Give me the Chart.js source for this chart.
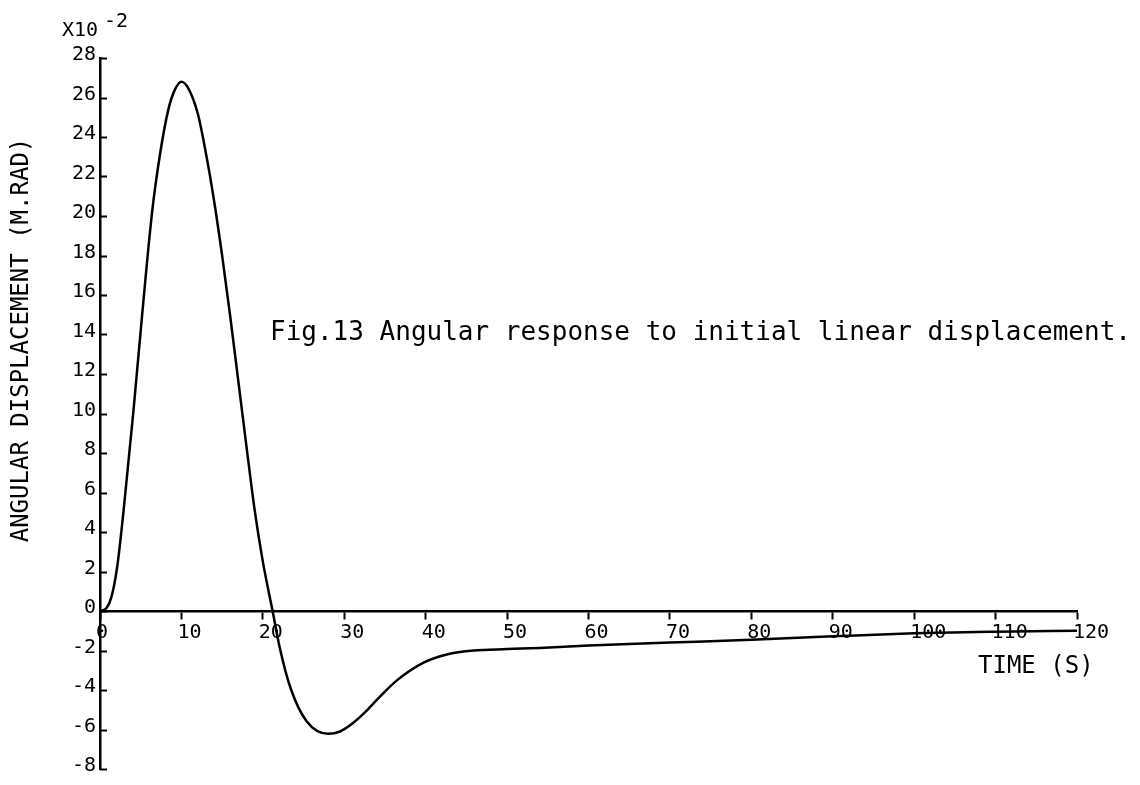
<!DOCTYPE html>
<html>
<head>
<meta charset="utf-8">
<title>Fig.13 Angular response</title>
<script src="https://cdn.jsdelivr.net/npm/chart.js@4.4.1/dist/chart.umd.min.js"></script>
<style>
    html, body { margin: 0; padding: 0; background: #fff; }
    #wrap { position: relative; width: 1140px; height: 785px; }
</style>
</head>
<body>
<div id="wrap"><canvas id="lineChart"></canvas></div>
<script>
/*global Chart, document*/

// time (s)
var timeValues = [0, 0.8, 1.4, 2.1, 2.9, 4.1, 5.0, 6.4, 7.4, 8.4, 9.2, 10.0, 10.8, 12.0, 13.0, 14.0, 15.0, 16.0, 17.0, 18.0,
    19.0, 20.0, 21.2, 22.1, 23.4, 25.4, 28.0, 29.5, 31.0, 32.5, 34.0, 36.5, 39.8, 42.6, 45.9, 50, 54,
    60, 70, 80, 90, 100, 110, 120];

// angular displacement, x10^-2 m.rad
var angleValues = [0, 0.15, 0.7, 2.2, 5.1, 10.1, 14.2, 20.2, 23.2, 25.4, 26.4, 26.8, 26.5, 25.2, 23.2, 20.8, 18.0, 14.9, 11.6, 8.3,
    5.1, 2.5, 0, -1.9, -3.9, -5.6, -6.22, -6.1, -5.7, -5.15, -4.5, -3.5, -2.6, -2.2, -2.0, -1.93, -1.87,
    -1.75, -1.6, -1.45, -1.28, -1.13, -1.05, -1.0];

var xTicks = [0, 10, 20, 30, 40, 50, 60, 70, 80, 90, 100, 110, 120];
var yTicks = [-8, -6, -4, -2, 0, 2, 4, 6, 8, 10, 12, 14, 16, 18, 20, 22, 24, 26, 28];

var yTitle = 'ANGULAR DISPLACEMENT (M.RAD)';
var xTitle = 'TIME (S)';
var caption = 'Fig.13 Angular response to initial linear displacement.';

(function () {

    'use strict';

    var ink = '#000';
    var mono = '"DejaVu Sans Mono", "Liberation Mono", monospace';

    var points = [];
    for (var i = 0; i < timeValues.length; i++) {
        points.push({ x: timeValues[i], y: angleValues[i] });
    }

    // ------------------------------------------------------- //
    // inward y ticks + loose text (axis titles, caption)
    // ------------------------------------------------------ //
    var plotterText = {
        id: 'plotterText',
        afterDraw: function (chart) {
            var ctx = chart.ctx;
            var ys = chart.scales.y;
            var left = chart.chartArea.left;

            ctx.save();
            ctx.strokeStyle = ink;
            ctx.lineWidth = 2;
            yTicks.forEach(function (v) {
                var py = Math.round(ys.getPixelForValue(v)) + 0.5;
                ctx.beginPath();
                ctx.moveTo(left, py);
                ctx.lineTo(left + 7, py);
                ctx.stroke();
            });

            ctx.fillStyle = ink;
            ctx.textBaseline = 'alphabetic';

            // exponent over the y axis
            ctx.font = '20px ' + mono;
            ctx.textAlign = 'left';
            ctx.fillText('X10', 62, 36);
            ctx.fillText('-2', 104, 27);

            // x title
            ctx.font = '24px ' + mono;
            ctx.fillText(xTitle, 978, 673);

            // caption
            ctx.font = '26px ' + mono;
            ctx.fillText(caption, 270, 340);

            // y title
            ctx.font = '24px ' + mono;
            ctx.translate(28, 340);
            ctx.rotate(-Math.PI / 2);
            ctx.textAlign = 'center';
            ctx.fillText(yTitle, 0, 0);
            ctx.restore();
        }
    };

    var LINECHART = document.getElementById('lineChart');
    var myLineChart = new Chart(LINECHART, {
        type: 'line',
        data: {
            datasets: [{
                label: 'Angular displacement',
                data: points,
                borderColor: ink,
                borderWidth: 2.5,
                pointRadius: 0,
                fill: false,
                cubicInterpolationMode: 'monotone'
            }]
        },
        options: {
            responsive: true,
            maintainAspectRatio: false,
            animation: false,
            layout: {
                padding: { left: 0, right: 63, top: 58, bottom: 7 }
            },
            plugins: {
                legend: { display: false },
                tooltip: { enabled: false }
            },
            scales: {
                x: {
                    type: 'linear',
                    position: { y: 0 },
                    min: 0,
                    max: 120,
                    afterFit: function (scale) { scale.height = 0; },
                    afterBuildTicks: function (scale) {
                        scale.ticks = xTicks.map(function (v) { return { value: v }; });
                    },
                    border: { display: true, color: ink, width: 2.5 },
                    grid: {
                        drawOnChartArea: false,
                        drawTicks: true,
                        tickLength: 7,
                        tickWidth: 2,
                        tickColor: ink
                    },
                    ticks: {
                        align: 'start',
                        labelOffset: -4,
                        padding: 3,
                        maxRotation: 0,
                        autoSkip: false,
                        color: ink,
                        font: { family: mono, size: 20 }
                    }
                },
                y: {
                    type: 'linear',
                    min: -8,
                    max: 28,
                    afterFit: function (scale) { scale.width = 100; },
                    afterBuildTicks: function (scale) {
                        scale.ticks = yTicks.map(function (v) { return { value: v }; });
                    },
                    border: { display: true, color: ink, width: 2.5 },
                    grid: {
                        drawOnChartArea: false,
                        drawTicks: false
                    },
                    ticks: {
                        padding: 4,
                        labelOffset: -3,
                        autoSkip: false,
                        color: ink,
                        font: { family: mono, size: 20 }
                    }
                }
            }
        },
        plugins: [plotterText]
    });

}());
</script>
</body>
</html>
